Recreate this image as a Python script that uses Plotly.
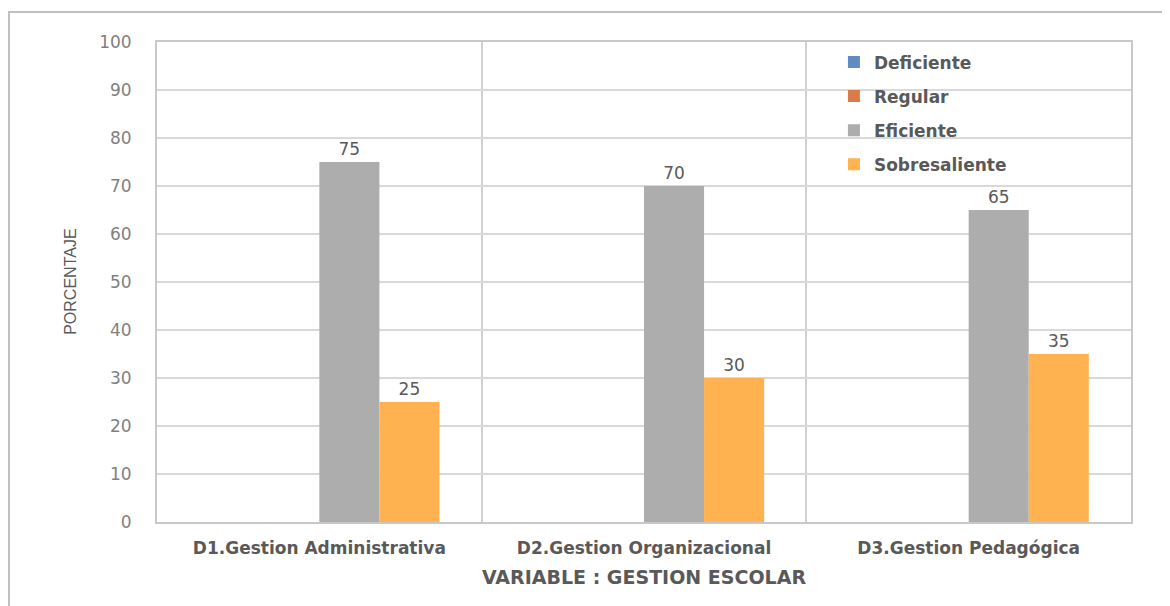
import plotly.graph_objects as go

categories = ["D1.Gestion Administrativa", "D2.Gestion Organizacional", "D3.Gestion Pedagógica"]
series_names = ["Deficiente", "Regular", "Eficiente", "Sobresaliente"]
deficiente = [0, 0, 0]
regular = [0, 0, 0]
eficiente = [75, 70, 65]
sobresaliente = [25, 30, 35]
y_ticks = [0, 10, 20, 30, 40, 50, 60, 70, 80, 90, 100]

series_values = [deficiente, regular, eficiente, sobresaliente]
colors = ["#5f8ac2", "#dc7b4a", "#adadad", "#ffb24f"]

fig = go.Figure()
for name, vals, col in zip(series_names, series_values, colors):
    fig.add_trace(go.Bar(
        name=name, x=categories, y=vals,
        marker=dict(color=col, line=dict(width=0)),
        text=[str(v) if v else "" for v in vals],
        textposition="outside",
        textfont=dict(family="DejaVu Sans", size=17, color="#595959"),
        cliponaxis=False,
        legendgroup=name,
    ))

fig.update_layout(
    width=1162, height=598,
    margin=dict(l=149, r=39, t=34, b=84),
    paper_bgcolor="white", plot_bgcolor="white",
    barmode="group", bargap=0.26, bargroupgap=0,
    font=dict(family="DejaVu Sans", color="#595959"),
    showlegend=True,
    legend=dict(
        x=0.695, y=0.995, xanchor="left", yanchor="top",
        bgcolor="rgba(0,0,0,0)",
        font=dict(family="DejaVu Sans", size=17, color="#595959", weight="bold"),
        traceorder="grouped", tracegroupgap=9,
        itemwidth=30,
    ),
    xaxis=dict(
        tickson="boundaries", showgrid=True, gridcolor="#d0d0d0", gridwidth=1.5,
        showline=True, linecolor="#c8c8c8", linewidth=2, mirror=True,
        ticks="", ticklabelstandoff=10,
        tickfont=dict(family="DejaVu Sans", size=17, color="#595959", weight="bold"),
        title=dict(text="VARIABLE : GESTION ESCOLAR",
                   font=dict(family="DejaVu Sans", size=19, color="#595959", weight="bold"),
                   standoff=13),
    ),
    yaxis=dict(
        range=[0, 100], tickvals=y_ticks, showgrid=True, gridcolor="#d9d9d9", gridwidth=1.5,
        showline=True, linecolor="#c8c8c8", linewidth=2, mirror=True, zeroline=False,
        ticks="", ticklabelstandoff=20,
        tickfont=dict(family="DejaVu Sans", size=17, color="#7f7f7f"),
    ),
    annotations=[dict(
        text="PORCENTAJE", xref="paper", yref="paper", x=-0.0895, y=0.5,
        xanchor="center", yanchor="middle", textangle=-90, showarrow=False,
        font=dict(family="Liberation Sans", size=16, color="#595959"),
    )],
    shapes=[dict(
        type="rect", xref="paper", yref="paper",
        x0=-0.152, x1=1.06, y0=-0.2, y1=1.0625,
        line=dict(color="#bfbfbf", width=2), fillcolor="rgba(0,0,0,0)", layer="below",
    )],
)

fig.write_html("out.html")
